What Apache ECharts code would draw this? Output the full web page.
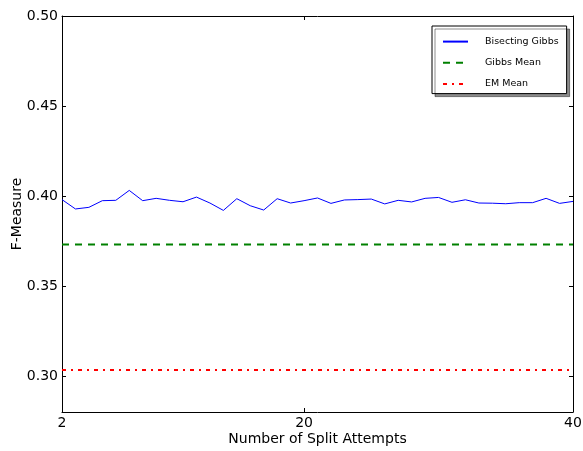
<!DOCTYPE html>
<html>
<head>
<meta charset="utf-8">
<script src="https://cdn.jsdelivr.net/npm/echarts@6/dist/echarts.min.js"></script>
<style>
  html, body { margin: 0; padding: 0; background: #fff; }
  #chart { width: 583px; height: 451px; }
</style>
</head>
<body>
<div id="chart"></div>
<script>
var splitAttempts = [2, 3, 4, 5, 6, 7, 8, 9, 10, 11, 12, 13, 14, 15, 16, 17, 18, 19, 20,
	21, 22, 23, 24, 25, 26, 27, 28, 29, 30, 31, 32, 33, 34, 35, 36, 37, 38, 39, 40];
var bisectingGibbs = [0.398, 0.3928, 0.3937, 0.3974, 0.3976, 0.4031, 0.3974, 0.3987, 0.3976,
	0.3968, 0.3994, 0.3961, 0.392, 0.3985, 0.3946, 0.3922, 0.3985, 0.3961, 0.3974,
	0.3989, 0.3959, 0.3978, 0.398, 0.3983, 0.3956, 0.3976, 0.3967, 0.3987, 0.3992,
	0.3965, 0.3979, 0.3961, 0.396, 0.3957, 0.3963, 0.3963, 0.3987, 0.3959, 0.397];
var gibbsMean = 0.373;
var emMean = 0.3033;
var xTicks = [2, 20, 40];
var yTicks = [0.30, 0.35, 0.40, 0.45, 0.50];

function cerateChart() {
	var dom = document.getElementById("chart");
	var myChart = echarts.init(dom);

	var font = 'DejaVu Sans';
	var xMin = splitAttempts[0];
	var xMax = splitAttempts[splitAttempts.length - 1];

	var gibbsData = [];
	for (var i = 0; i < splitAttempts.length; i++) {
		gibbsData.push([splitAttempts[i], bisectingGibbs[i]]);
	}

	function frameX(pos, labels) {
		return {
			type: 'value',
			position: pos,
			min: xMin,
			max: xMax,
			name: labels ? 'Number of Split Attempts' : '',
			nameLocation: 'middle',
			nameGap: 20,
			nameMoveOverlap: false,
			nameTextStyle: { color: '#000', fontFamily: font, fontSize: 14 },
			axisLine: { onZero: false, lineStyle: { color: '#000', width: 1 } },
			axisTick: { inside: true, length: 4, customValues: xTicks, lineStyle: { color: '#000' } },
			axisLabel: {
				show: labels,
				customValues: xTicks,
				margin: 4,
				color: '#000',
				fontFamily: font,
				fontSize: 14
			},
			splitLine: { show: false }
		};
	}

	function frameY(pos, labels) {
		return {
			type: 'value',
			position: pos,
			min: 0.28,
			max: 0.50,
			name: labels ? 'F-Measure' : '',
			nameLocation: 'middle',
			nameGap: 38,
			nameMoveOverlap: false,
			nameTextStyle: { color: '#000', fontFamily: font, fontSize: 14 },
			axisLine: { onZero: false, lineStyle: { color: '#000', width: 1 } },
			axisTick: { inside: true, length: 4, customValues: yTicks, lineStyle: { color: '#000' } },
			axisLabel: {
				show: labels,
				customValues: yTicks,
				margin: 4,
				color: '#000',
				fontFamily: font,
				fontSize: 14,
				formatter: function (v) { return v.toFixed(2); }
			},
			splitLine: { show: false }
		};
	}

	var option = {
		animation: false,
		backgroundColor: '#fff',
		grid: {
			left: 62,
			right: 10,
			top: 16,
			bottom: 39,
			outerBoundsMode: 'none',
			containLabel: false
		},
		legend: {
			orient: 'vertical',
			left: 432,
			top: 26,
			padding: [10, 8, 4, 10],
			itemWidth: 25,
			itemHeight: 14,
			itemGap: 10,
			backgroundColor: '#fff',
			borderColor: '#000',
			borderWidth: 1,
			borderRadius: 0,
			shadowColor: 'rgba(0,0,0,0.45)',
			shadowOffsetX: 3,
			shadowOffsetY: 3,
			shadowBlur: 0,
			itemStyle: { opacity: 0 },
			textStyle: {
				color: '#000',
				fontFamily: font,
				fontSize: 9.5,
				padding: [0, 0, 0, 12]
			},
			data: ['Bisecting Gibbs', 'Gibbs Mean', 'EM Mean']
		},
		xAxis: [frameX('bottom', true), frameX('top', false)],
		yAxis: [frameY('left', true), frameY('right', false)],
		series: [
			{
				name: 'Bisecting Gibbs',
				type: 'line',
				symbol: 'none',
				lineStyle: { color: '#0000ff', width: 1 },
				itemStyle: { color: '#0000ff' },
				data: gibbsData
			},
			{
				name: 'Gibbs Mean',
				type: 'line',
				symbol: 'none',
				lineStyle: { color: '#008000', width: 2, type: [7, 6] },
				itemStyle: { color: '#008000' },
				data: [[xMin, gibbsMean], [xMax, gibbsMean]]
			},
			{
				name: 'EM Mean',
				type: 'line',
				symbol: 'none',
				lineStyle: { color: '#ff0000', width: 2, type: [4, 5, 2, 5] },
				itemStyle: { color: '#ff0000' },
				data: [[xMin, emMean], [xMax, emMean]]
			}
		]
	};

	if (option && typeof option === "object") {
		myChart.setOption(option, true);
	}
}
cerateChart();
</script>
</body>
</html>
